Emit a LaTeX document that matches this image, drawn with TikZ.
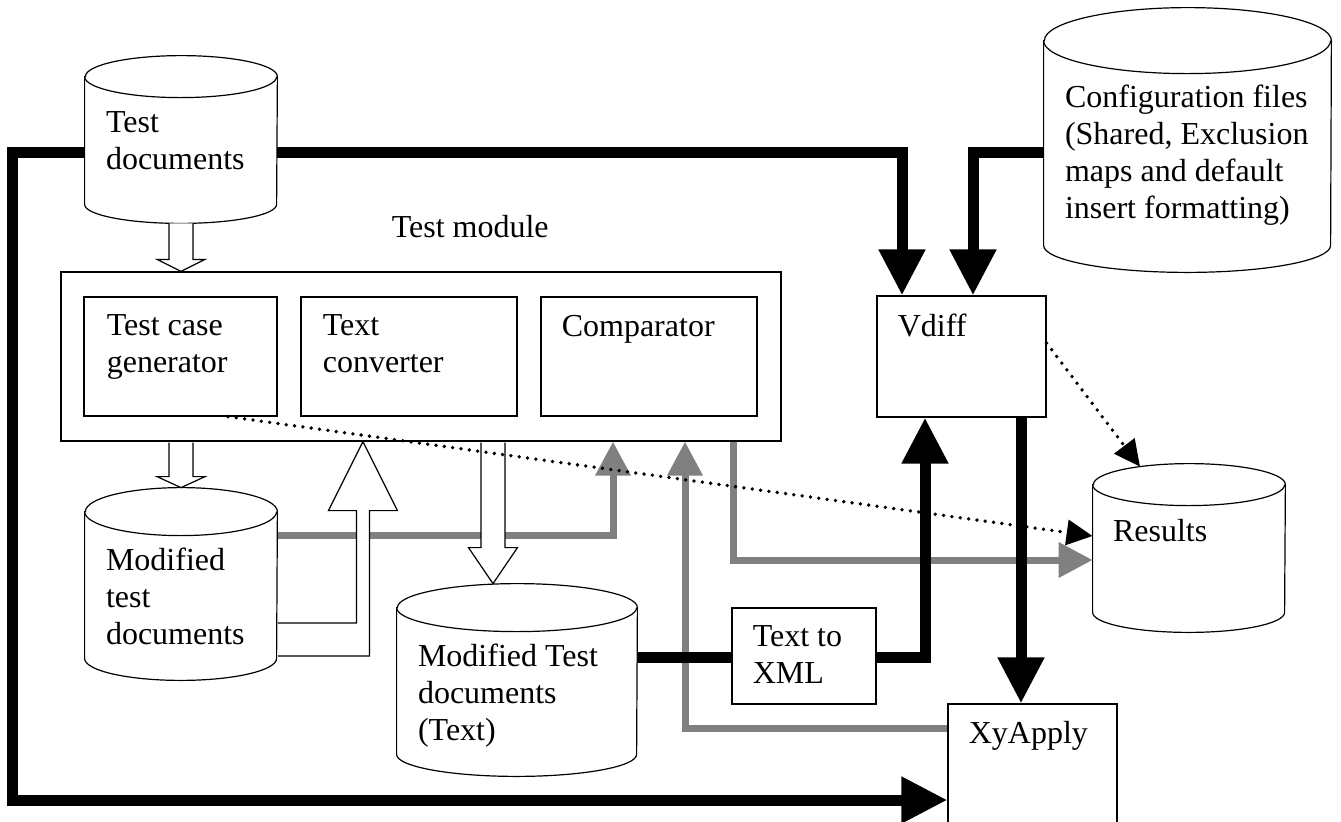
\documentclass[tikz,border=0pt]{standalone}
\usepackage{fontspec}
\setmainfont{Liberation Serif}
\usetikzlibrary{arrows.meta,calc,fit}

\tikzset{
  box/.style={draw, line width=0.6pt, fill=white, inner sep=0pt},
  body/.style={inner sep=0pt},
  cyl/.style={draw, line width=0.6pt, fill=white},
  hollow/.style={draw, line width=0.6pt, fill=white},
  txt/.style={anchor=base west, align=left, inner sep=0pt, font=\fontsize{16}{18.5}\selectfont},
  blk/.style={line width=5.5pt, -{Triangle[length=23pt,width=22pt]}},
  gry/.style={draw=gray, line width=3.5pt, -{Triangle[length=17pt,width=17pt]}},
  dots/.style={line width=1.9pt, line cap=round, dash pattern=on 0pt off 4.2pt, -{Triangle[length=13pt,width=12.5pt]}}
}

\begin{document}
\begin{tikzpicture}[x=0.5pt, y=-0.5pt]
\useasboundingbox (0,0) rectangle (1341,821);
% boxes
\node[box, fit={(61,272)(781,441)}] (tmod) {};
\node[box, fit={(84,297)(277,416)}] (tcg) {};
\node[box, fit={(301,297)(517,416)}] (tconv) {};
\node[box, fit={(541,297)(757,416)}] (comp) {};
\node[box, fit={(877,296)(1046,417)}] (vdiff) {};
\node[box, fit={(732,608)(876,704)}] (txml) {};
\node[box, fit={(948,704)(1117,840)}] (xyapply) {};
% cylinder bodies
\node[body, fit={(85,77)(277,204)}] (tdocs) {};
\node[body, fit={(85,512)(277,658)}] (mtest) {};
\node[body, fit={(397,608)(637,754)}] (mtext) {};
\node[body, fit={(1093,485)(1285,612)}] (results) {};
\node[body, fit={(1044,41)(1331,245)}] (config) {};

% grey links
\draw[gry] (mtest.east |- 0,535) -| (tmod.south -| 613,0);
\draw[gry] (xyapply.west |- 0,728) -| (tmod.south -| 685,0);
\draw[gry] (tmod.south -| 733,0) |- (results.west |- 0,560);

% black links
\draw[blk] (tdocs.east |- 0,152) -| (vdiff.north -| 902,0);
\draw[blk] (config.west |- 0,152) -| (vdiff.north -| 973,0);
\draw[blk] (tdocs.west |- 0,152) -| (12,800) -- (xyapply.west |- 0,800);
\draw[blk, -] (mtext.east |- 0,657) -- (txml.west |- 0,657);
\draw[blk] (txml.east |- 0,657) -| (vdiff.south -| 925,0);
\draw[blk] (vdiff.south -| 1021,0) -- (xyapply.north -| 1021,0);

% cylinders
\foreach \n/\rx/\rt/\rb in {tdocs/96/21/19, mtest/96/24/22, mtext/120/24/22, results/96/21/20, config/143.5/33/27}{
  \draw[cyl] (\n.north west) -- (\n.south west) arc[start angle=180, end angle=0, x radius=\rx, y radius=\rb]
    -- (\n.north east) arc[start angle=0, end angle=-180, x radius=\rx, y radius=\rt] -- cycle;
  \draw[cyl, fill=none] (\n.north west) arc[start angle=180, end angle=0, x radius=\rx, y radius=\rt];
}

% hollow arrows
\coordinate (a1) at (tmod.north -| tdocs.south);
\draw[hollow] ($(tdocs.south)+(-12,19)$) -- ($(a1)+(-12,-12)$) -- ($(a1)+(-24,-12)$) -- (a1)
  -- ($(a1)+(24,-12)$) -- ($(a1)+(12,-12)$) -- ($(tdocs.south)+(12,19)$);
\coordinate (a2) at ($(mtest.north)+(0,-24)$);
\draw[hollow] ($(tmod.south -| a2)+(-12,1)$) -- ($(a2)+(-12,-11)$) -- ($(a2)+(-24,-11)$) -- (a2)
  -- ($(a2)+(24,-11)$) -- ($(a2)+(12,-11)$) -- ($(tmod.south -| a2)+(12,1)$);
\coordinate (a3) at ($(mtext.north)+(-24,-24)$);
\draw[hollow] ($(tmod.south -| a3)+(-12,1)$) -- ($(a3)+(-12,-36)$) -- ($(a3)+(-24.5,-36)$) -- (a3)
  -- ($(a3)+(24.5,-36)$) -- ($(a3)+(12,-36)$) -- ($(tmod.south -| a3)+(12,1)$);
\coordinate (a4) at ($(tmod.south -| mtest.east)+(85.5,0)$);
\draw[hollow] ($(mtest.east)+(0.5,38)$) -- ($(mtest.east -| a4)+(-6.5,38)$) -- ($(a4)+(-6.5,69)$)
  -- ($(a4)+(-34.5,69)$) -- (a4) -- ($(a4)+(34.5,69)$) -- ($(a4)+(6.5,69)$)
  -- ($(mtest.east -| a4)+(6.5,71)$) -- ($(mtest.east)+(0.5,71)$);

% texts (anchored at the baseline of the last line)
\node[txt] (tmodt) at ($(tmod.north west)+(331,-34)$) {Test module};
\node[txt] (tdocst) at ($(tdocs.north west)+(21,93)$) {Test\\documents};
\node[txt] (mtestt) at ($(mtest.north west)+(21,133)$) {Modified\\test\\documents};
\node[txt] (mtextt) at ($(mtext.north west)+(21,133)$) {Modified Test\\documents\\(Text)};
\node[txt] (resultst) at ($(results.north west)+(20,57)$) {Results};
\node[txt] (configt) at ($(config.north west)+(21,178)$) {Configuration files\\(Shared, Exclusion\\maps and default\\insert formatting)};
\node[txt] (tcgt) at ($(tcg.north west)+(23,76)$) {Test case\\generator};
\node[txt] (tconvt) at ($(tconv.north west)+(22,76)$) {Text\\converter};
\node[txt] (compt) at ($(comp.north west)+(21,40)$) {Comparator};
\node[txt] (vdifft) at ($(vdiff.north west)+(21,41)$) {Vdiff};
\node[txt] (txmlt) at ($(txml.north west)+(21,76)$) {Text to\\XML};
\node[txt] (xyapplyt) at ($(xyapply.north west)+(21,40)$) {XyApply};

% dotted links
\draw[dots] (tcg.south -| 228,0) -- (results.west |- 0,536);
\draw[dots] (vdiff.east |- 0,343) -- ($(results.north -| 1140,0)+(0,-18)$);
\end{tikzpicture}
\end{document}
